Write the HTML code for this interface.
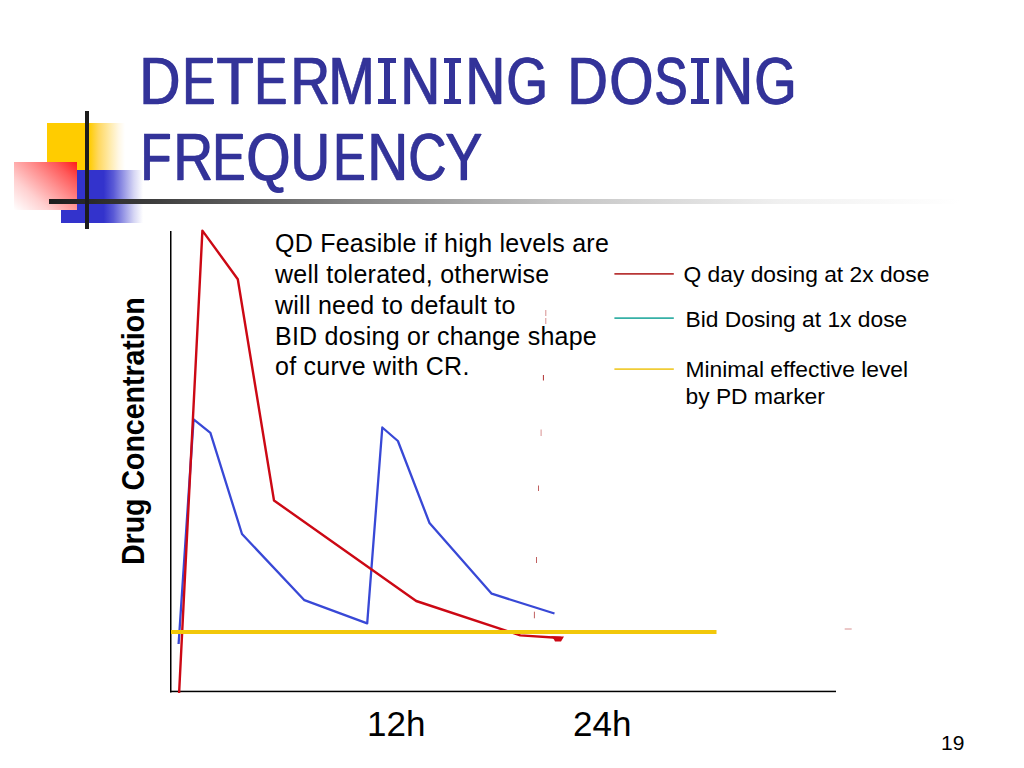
<!DOCTYPE html>
<html>
<head>
<meta charset="utf-8">
<style>
html,body{margin:0;padding:0;background:#fff;}
body{width:1024px;height:768px;position:relative;overflow:hidden;font-family:"Liberation Sans",sans-serif;}
.abs{position:absolute;white-space:nowrap;}
.tg{position:absolute;color:#333399;font-size:67px;line-height:77px;white-space:nowrap;transform-origin:0 0;-webkit-text-stroke:0.5px #333399;text-shadow:1.3px 0 0 #333399;}
.ib{position:absolute;background:#333399;}
.note{position:absolute;left:275px;top:228px;color:#000;font-size:25px;line-height:30.85px;letter-spacing:0.25px;white-space:nowrap;}
.leg{position:absolute;color:#000;font-size:22.8px;line-height:26.8px;white-space:nowrap;}
</style>
</head>
<body>
<!-- decorative blocks -->
<div class="abs" style="left:47px;top:123px;width:78px;height:47px;background:linear-gradient(to right,#ffcc00 0%,#ffcc00 54%,#ffd860 66%,#ffeaa8 80%,#fff8e6 92%,rgba(255,255,255,0) 100%);"></div>
<div class="abs" style="left:61px;top:170px;width:82px;height:53px;background:linear-gradient(to right,#3333cc 0%,#3333cc 52%,#5a5ad6 64%,#9a9ae6 77%,#d6d6f4 89%,rgba(255,255,255,0) 100%);"></div>
<div class="abs" style="left:14px;top:162px;width:63px;height:48px;background:linear-gradient(222deg,#ff1a1a 0%,#ff5a5a 20%,#ff9090 42%,#ffd0d0 70%,#ffffff 100%);"></div>
<div class="abs" style="left:49px;top:199px;width:911px;height:4.7px;background:linear-gradient(to right,#1c1c1c 0%,#404040 12.2%,#848484 33%,#c4c4c4 56.1%,#f0f0f0 80.2%,rgba(255,255,255,0) 100%);"></div>
<div class="abs" style="left:85px;top:111px;width:4px;height:117.5px;background:#1c1c1c;"></div>

<!-- title -->
<span class="tg" style="left:139.16px;top:42px;transform:scaleX(0.848)">D</span>
<span class="tg" style="left:182.40px;top:42px;transform:scaleX(0.739)">E</span>
<span class="tg" style="left:215.69px;top:42px;transform:scaleX(0.905)">T</span>
<span class="tg" style="left:254.32px;top:42px;transform:scaleX(0.737)">E</span>
<span class="tg" style="left:289.80px;top:42px;transform:scaleX(0.820)">R</span>
<span class="tg" style="left:328.05px;top:42px;transform:scaleX(0.831)">M</span>
<div class="ib" style="left:378.3px;top:58.2px;width:17.9px;height:4.6px"></div>
<div class="ib" style="left:384.2px;top:58.2px;width:6.1px;height:45.8px"></div>
<div class="ib" style="left:378.3px;top:99.2px;width:17.9px;height:4.8px"></div>
<span class="tg" style="left:399.90px;top:42px;transform:scaleX(0.821)">N</span>
<div class="ib" style="left:443.9px;top:58.2px;width:17.2px;height:4.6px"></div>
<div class="ib" style="left:449.4px;top:58.2px;width:6.1px;height:45.8px"></div>
<div class="ib" style="left:443.9px;top:99.2px;width:17.2px;height:4.8px"></div>
<span class="tg" style="left:464.78px;top:42px;transform:scaleX(0.823)">N</span>
<span class="tg" style="left:506.35px;top:42px;transform:scaleX(0.799)">G</span>
<span class="tg" style="left:567.07px;top:42px;transform:scaleX(0.837)">D</span>
<span class="tg" style="left:609.36px;top:42px;transform:scaleX(0.847)">O</span>
<span class="tg" style="left:654.17px;top:42px;transform:scaleX(0.743)">S</span>
<div class="ib" style="left:690.8px;top:58.2px;width:18.0px;height:4.6px"></div>
<div class="ib" style="left:696.7px;top:58.2px;width:6.1px;height:45.8px"></div>
<div class="ib" style="left:690.8px;top:99.2px;width:18.0px;height:4.8px"></div>
<span class="tg" style="left:711.59px;top:42px;transform:scaleX(0.841)">N</span>
<span class="tg" style="left:753.57px;top:42px;transform:scaleX(0.811)">G</span>
<span class="tg" style="left:140.10px;top:118px;transform:scaleX(0.760)">F</span>
<span class="tg" style="left:172.60px;top:118px;transform:scaleX(0.820)">R</span>
<span class="tg" style="left:212.10px;top:118px;transform:scaleX(0.739)">E</span>
<span class="tg" style="left:246.06px;top:118px;transform:scaleX(0.847)">Q</span>
<span class="tg" style="left:290.30px;top:118px;transform:scaleX(0.820)">U</span>
<span class="tg" style="left:333.01px;top:118px;transform:scaleX(0.718)">E</span>
<span class="tg" style="left:367.49px;top:118px;transform:scaleX(0.841)">N</span>
<span class="tg" style="left:407.89px;top:118px;transform:scaleX(0.787)">C</span>
<span class="tg" style="left:445.07px;top:118px;transform:scaleX(0.828)">Y</span>

<!-- chart -->
<svg class="abs" style="left:0;top:0" width="1024" height="768" viewBox="0 0 1024 768">
  <rect x="170" y="231" width="1.5" height="461.5" fill="#000"/>
  <rect x="170" y="690.7" width="666" height="1.5" fill="#000"/>
  <polyline fill="none" stroke="#3848d6" stroke-width="2.3" stroke-linejoin="round"
    points="178.6,644 193.6,419.3 210.4,432.8 242,534 304.4,600.2 367.2,623.4 382.3,427.5 397.9,441 429.5,523 491.7,593.7 554.5,613.5"/>
  <polyline fill="none" stroke="#cc0814" stroke-width="2.4" stroke-linejoin="round"
    points="179.1,693 202.4,230.6 237.8,279.2 274,500.5 416.2,601 520.3,635.4 561,638"/>
  <path d="M551,636.2 L564,636.4 L561,641.6 L555,641.6 L554,639.5 Z" fill="#cc0814"/>
  <line x1="171" y1="632" x2="716.5" y2="632" stroke="#f2c80a" stroke-width="3.8"/>
  <!-- legend lines -->
  <line x1="614.4" y1="273.9" x2="673.8" y2="273.9" stroke="#b83636" stroke-width="1.8"/>
  <line x1="614.4" y1="318.1" x2="673.8" y2="318.1" stroke="#36b0a6" stroke-width="1.7"/>
  <line x1="614.4" y1="369.1" x2="673.8" y2="369.1" stroke="#f0cc36" stroke-width="1.7"/>
  <!-- faint red ticks -->
  <g stroke="#d89090" stroke-width="1">
    <line x1="545.8" y1="310" x2="545.8" y2="316"/>
    <line x1="545.8" y1="318" x2="545.8" y2="324"/>
    <line x1="543.4" y1="375" x2="543.4" y2="380.5" stroke="#b03030"/>
    <line x1="541.1" y1="429.5" x2="541.1" y2="436"/>
    <line x1="538.5" y1="485.5" x2="538.5" y2="491" stroke="#c06060"/>
    <line x1="536.5" y1="557" x2="536.5" y2="563" stroke="#c06060"/>
    <line x1="534.4" y1="611.7" x2="534.4" y2="618.3" stroke="#c06060"/>
    <line x1="844.7" y1="629" x2="851.7" y2="629"/>
  </g>
</svg>

<!-- note text -->
<div class="note">QD Feasible if high levels are<br>well tolerated, otherwise<br>will need to default to<br>BID dosing or change shape<br>of curve with CR.</div>

<!-- legend text -->
<div class="leg" style="left:683.5px;top:261px;">Q day dosing at 2x dose</div>
<div class="leg" style="left:685.5px;top:305.5px;">Bid Dosing at 1x dose</div>
<div class="leg" style="left:685.5px;top:356px;line-height:27.4px;">Minimal effective level<br>by PD marker</div>

<!-- axis labels -->
<div class="abs" style="left:115px;top:565px;transform-origin:0 0;transform:rotate(-90deg) scale(1,1.1);font-weight:bold;font-size:28.5px;line-height:33px;">Drug Concentration</div>
<div class="abs" style="left:367px;top:704px;font-size:35px;line-height:40px;">12h</div>
<div class="abs" style="left:573px;top:704px;font-size:35px;line-height:40px;">24h</div>
<div class="abs" style="left:941px;top:731px;font-size:21px;line-height:24px;">19</div>
</body>
</html>
